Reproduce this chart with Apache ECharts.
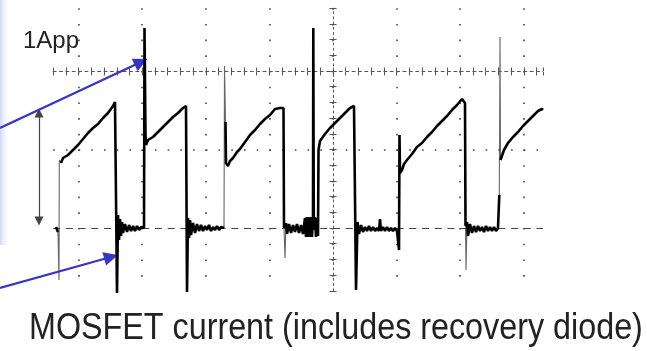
<!DOCTYPE html>
<html>
<head>
<meta charset="utf-8">
<script src="https://cdn.jsdelivr.net/npm/echarts@6/dist/echarts.min.js"></script>
<style>
  html, body { margin: 0; padding: 0; background: #fff; }
  #chart { width: 647px; height: 351px; }
</style>
</head>
<body>
<div id="chart"></div>
<script>
// scope record: time in samples from the trigger, level in ADC counts above zero
// graticule: 63.6 samples per horizontal division, 78.5 counts per vertical division
const divX = 63.6;
const divY = 78.5;

const start0 = [[-277, 1], [-275, -4]];
const thin1 = [[-275, -4], [-274, -52], [-273.7, 68], [-272, 65]];
const cycle1 = [
  [-272, 65], [-270, 70], [-268, 68], [-265, 73], [-263, 72], [-260, 78], [-258, 77], [-255, 83],
  [-253, 82], [-250, 89], [-248, 88], [-245, 95], [-243, 95], [-240, 100], [-238, 99], [-235, 104],
  [-233, 105], [-230, 110], [-228, 110], [-225, 115], [-223, 116], [-220, 122], [-218, 126], [-217, 127],
  [-216.5, 127], [-216, -65], [-215, 13], [-214, -12], [-213, 9], [-212, -8], [-211, 6], [-210, -5],
  [-208, 4], [-206, -4], [-204, 3], [-202, -3], [-200, 2], [-198, -3], [-196, 2], [-194, -2],
  [-192, 1], [-190, -1], [-189, 0], [-188.5, 200], [-187.5, 93], [-187, 83], [-185, 88], [-183, 86],
  [-180, 91], [-178, 90], [-175, 96], [-173, 95], [-170, 101], [-168, 100], [-165, 106], [-163, 106],
  [-160, 111], [-158, 110], [-155, 115], [-153, 115], [-150, 120], [-148, 122], [-147, 122],
  [-146.5, 122], [-146, -64], [-145, 10], [-144, -10], [-143, 8], [-142, -7], [-140, 5], [-138, -5],
  [-136, 4], [-134, -3], [-132, 3], [-130, -3], [-128, 2], [-126, -2], [-124, 3], [-122, -3],
  [-120, 1], [-118, -2], [-116, 2], [-114, -2], [-112, 1], [-110, -1], [-109, 0]
];
const thin2 = [[-109, 0], [-108.5, 162], [-107.5, 106]];
const cycle2 = [
  [-107.5, 106], [-107, 65], [-105, 62], [-103, 67], [-100, 70], [-98, 72], [-96, 76], [-93, 79],
  [-91, 81], [-88, 86], [-86, 87], [-83, 93], [-81, 94], [-78, 98], [-76, 100], [-73, 104],
  [-71, 105], [-68, 109], [-66, 110], [-63, 113], [-61, 115], [-58, 119], [-56, 121], [-53, 120],
  [-51, 122], [-49.5, 120], [-49, 0]
];
const thin3 = [[-49, 0], [-48, -30], [-47, 5]];
const cycle3 = [
  [-47, 5], [-46, -6], [-44, 4], [-42, -5], [-40, 3], [-38, -4], [-36, 4], [-34, -5],
  [-32, 3], [-30, -6], [-28, 10], [-27, -9], [-26, 11], [-25, -9], [-24, 11], [-23, -9],
  [-22, 11], [-21, -9], [-20, 8], [-19.7, 200], [-19.2, -2], [-18, 11], [-17, -9], [-16, 10],
  [-15, -8], [-14.5, 78], [-13, 87], [-11, 88], [-8, 94], [-6, 94], [-3, 100], [-1, 101],
  [2, 105], [4, 106], [7, 110], [9, 111], [12, 115], [14, 116], [17, 120], [19, 121],
  [21, 122], [22, 120], [23, -62], [24.5, 6], [26, -6], [28, 3], [30, -4], [32, 1],
  [34, -3], [36, 2], [38, -3], [40, 1], [42, -3], [44, 0], [46, -3], [47, 9],
  [48, -3], [50, 1], [52, -3], [54, 1], [56, -3], [58, 0], [60, -3], [62, 0],
  [64, -3], [65.5, -1], [66, -22], [66.5, 93], [67, 55], [69, 58], [71, 64], [74, 68],
  [76, 67], [79, 74], [81, 75], [84, 81], [86, 80], [89, 85], [91, 86], [94, 91],
  [96, 92], [99, 96], [101, 97], [104, 102], [106, 102], [109, 107], [111, 108], [114, 112],
  [116, 113], [119, 118], [121, 118], [124, 123], [126, 124], [129, 129], [131, 128], [132, 125],
  [132.5, 2]
];
const thin4 = [[132.5, 2], [133, -42], [134, 6]];
const cycle4 = [
  [134, 6], [135, -8], [137, 4], [139, -5], [141, 2], [143, -4], [145, 2], [147, -3],
  [149, 1], [151, -4], [153, 2], [155, -3], [157, 1], [159, -3], [161, 1], [163, -3],
  [165, 0], [166, -1], [166.3, 33]
];
const thin5 = [[166.3, 33], [167, 191], [167.5, 68]];
const cycle5 = [
  [167.5, 68], [169, 70], [171, 78], [173, 80], [175, 85], [177, 86], [180, 91], [182, 92],
  [185, 96], [187, 97], [190, 102], [192, 103], [195, 107], [197, 108], [200, 112], [202, 114],
  [205, 117], [207, 116], [209, 119], [210, 118]
];

// graticule rows (start/end in samples) and annotations
const rowStart = -279.84;
const rowEnd = 209.88;
const arrowHigh = [[-333, 100], [-192, 166]];
const arrowLow = [[-333, -60], [-222, -29]];
const ppArrow = [[-294, 115], [-294, 7]];

var chart = echarts.init(document.getElementById('chart'));

function traceSeries(d, color, width, z) {
  return {
    type: 'line', xAxisIndex: 3, yAxisIndex: 3, data: d,
    symbol: 'none', silent: true, z: z,
    lineStyle: {color: color, width: width}
  };
}

function markSeries(lines, symbol, size) {
  return {
    type: 'line', xAxisIndex: 3, yAxisIndex: 3, data: [], silent: true, z: 6,
    markLine: {
      silent: true, animation: false, symbol: symbol, symbolSize: size,
      label: {show: false}, emphasis: {disabled: true},
      data: lines
    }
  };
}

var hidden = {axisLine: {show: false}, axisTick: {show: false}, axisLabel: {show: false}, splitLine: {show: false}};

var option = {
  backgroundColor: '#fff',
  animation: false,
  graphic: [
    {
      type: 'rect', z: 0, silent: true,
      shape: {x: 0, y: 0, width: 10, height: 245},
      style: {fill: new echarts.graphic.LinearGradient(0, 0, 1, 0, [
        {offset: 0, color: 'rgba(208,214,242,0.95)'},
        {offset: 1, color: 'rgba(255,255,255,0)'}
      ])}
    },
    {
      type: 'text', x: 23, y: 41, z: 10, silent: true,
      style: {text: '1App', fontSize: 24, fontFamily: 'Liberation Sans', fill: '#222',
        verticalAlign: 'middle', textVerticalAlign: 'middle'}
    },
    {
      type: 'text', x: 29, y: 328.5, scaleY: 1.15, z: 10, silent: true,
      style: {text: 'MOSFET current (includes recovery diode)', fontSize: 32.3,
        fontFamily: 'Liberation Sans', fill: '#222',
        verticalAlign: 'middle', textVerticalAlign: 'middle'}
    }
  ],
  grid: [
    {left: 15, top: 8.2, width: 9 * divX, height: 3.6 * divY},
    {left: 333 + rowStart, top: 71, width: rowEnd - rowStart, height: 1},
    {left: 0, top: 0, right: 0, bottom: 0}
  ],
  xAxis: [
    {
      gridIndex: 0, type: 'value', min: -5 * divX, max: 4 * divX, interval: divX,
      axisLine: {show: false, onZero: false}, axisTick: {show: false}, axisLabel: {show: false},
      splitLine: {show: true, showMinLine: false, showMaxLine: false,
        lineStyle: {color: '#444', width: 1.6, type: [1.6, 14.1]}}
    },
    {
      gridIndex: 1, type: 'value', position: 'top', min: rowStart, max: rowEnd, interval: divX / 5,
      axisLine: {show: true, onZero: false, lineStyle: {color: '#555', width: 1, type: [3, 3.36]}},
      axisTick: {show: true, length: 3.5, lineStyle: {color: '#555'}},
      axisLabel: {show: false}, splitLine: {show: false}
    },
    {
      gridIndex: 1, type: 'value', position: 'bottom', min: rowStart, max: rowEnd, interval: divX / 5,
      axisLine: {show: false, onZero: false},
      axisTick: {show: true, length: 3.5, lineStyle: {color: '#555'}},
      axisLabel: {show: false}, splitLine: {show: false}
    },
    Object.assign({gridIndex: 2, type: 'value', min: -333, max: 314}, hidden)
  ],
  yAxis: [
    {
      gridIndex: 0, type: 'value', position: 'left', offset: -5 * divX,
      min: -0.8 * divY, max: 2.8 * divY, interval: divY / 5,
      axisLine: {show: true, onZero: false, lineStyle: {color: '#555', width: 1, type: [2, 3.23]}},
      axisTick: {show: true, length: 3.5, lineStyle: {color: '#555'}},
      axisLabel: {show: false}, splitLine: {show: false}
    },
    {
      gridIndex: 0, type: 'value', position: 'right', offset: -4 * divX,
      min: -0.8 * divY, max: 2.8 * divY, interval: divY / 5,
      axisLine: {show: false, onZero: false},
      axisTick: {show: true, length: 3.5, lineStyle: {color: '#555'}},
      axisLabel: {show: false}, splitLine: {show: false}
    },
    Object.assign({gridIndex: 1, type: 'value', min: 0, max: 1}, hidden),
    Object.assign({gridIndex: 2, type: 'value', min: -123, max: 228}, hidden)
  ],
  series: [start0, cycle1, cycle2, cycle3, cycle4, cycle5].map(function (d) {
    return traceSeries(d, '#000', 2.6, 5);
  }).concat([thin1, thin2, thin3, thin4, thin5].map(function (d) {
    return traceSeries(d, '#666', 1.1, 4);
  })).concat([
    markSeries([
      [{coord: [rowStart, 0], lineStyle: {color: '#444', width: 1.2, type: [7, 5.72]}}, {coord: [rowEnd, 0]}],
      [{coord: [rowStart, divY], lineStyle: {color: '#444', width: 1.6, type: [1.6, 11.12]}}, {coord: [rowEnd, divY]}]
    ], 'none', 0),
    markSeries([
      [{coord: arrowHigh[0], lineStyle: {color: '#3535c8', width: 2.2, type: 'solid'}}, {coord: arrowHigh[1]}],
      [{coord: arrowLow[0], lineStyle: {color: '#3535c8', width: 2.2, type: 'solid'}}, {coord: arrowLow[1]}]
    ], ['none', 'triangle'], 14),
    markSeries([
      [{coord: ppArrow[0], lineStyle: {color: '#444', width: 1.2, type: 'solid'}}, {coord: ppArrow[1]}]
    ], ['triangle', 'triangle'], 9)
  ])
};

chart.setOption(option);
</script>
</body>
</html>
